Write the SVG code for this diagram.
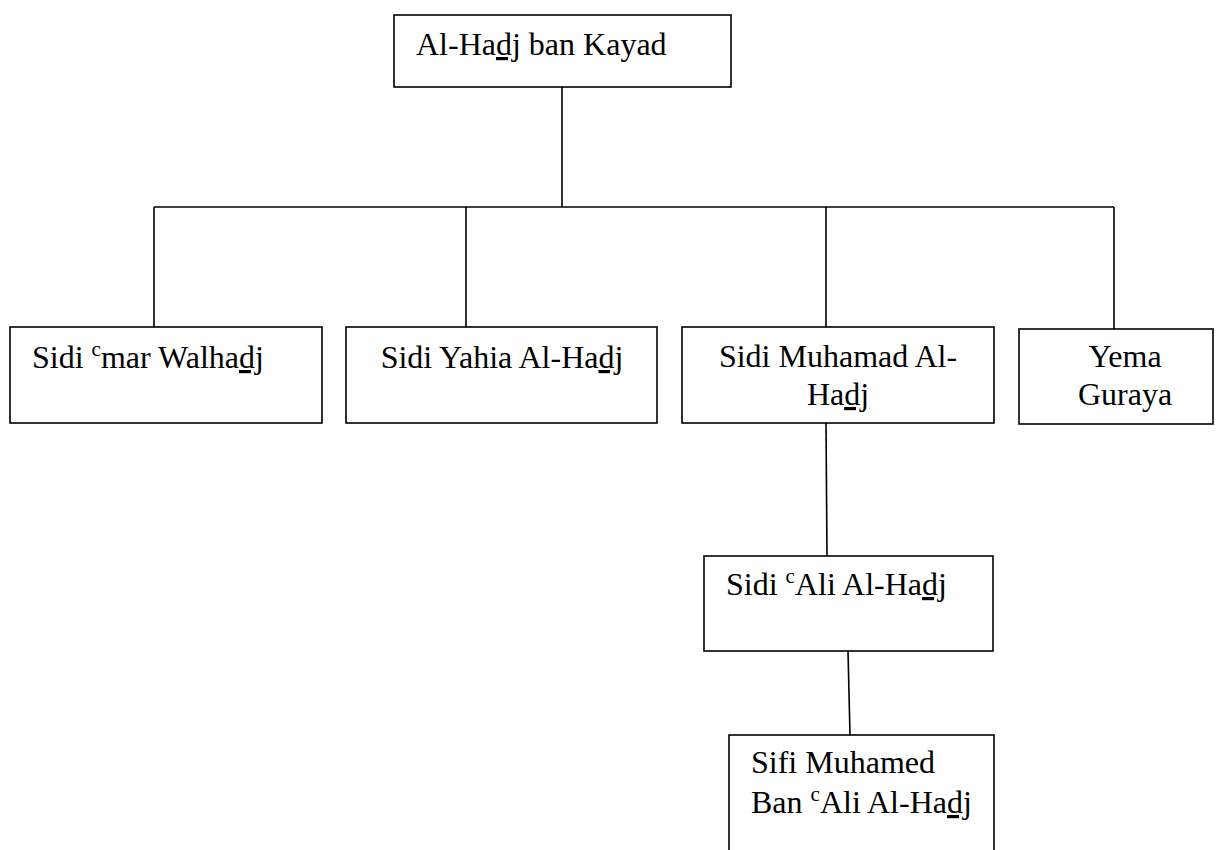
<svg xmlns="http://www.w3.org/2000/svg" width="1226" height="850" viewBox="0 0 1226 850">
<style>
.box{fill:#fff;stroke:#000;stroke-width:1.6}
.ln{stroke:#000;stroke-width:1.6;fill:none}
text{font-family:"Liberation Serif","Times New Roman",serif;font-size:32px;fill:#000}
.u{text-decoration:underline}
.sup{font-size:21px}
.c{text-anchor:middle}
</style>
<rect width="1226" height="850" fill="#fff"/>
<g id="connectors">
<line class="ln" x1="562" y1="87" x2="562" y2="207"/>
<line class="ln" x1="154" y1="207" x2="1114" y2="207"/>
<line class="ln" x1="154" y1="207" x2="154" y2="327"/>
<line class="ln" x1="466" y1="207" x2="466" y2="327"/>
<line class="ln" x1="826" y1="207" x2="826" y2="327"/>
<line class="ln" x1="1114" y1="207" x2="1114" y2="329"/>
<line class="ln" x1="826" y1="423" x2="827" y2="556"/>
<line class="ln" x1="848" y1="651" x2="850" y2="735"/>
</g>
<g id="n0">
<rect class="box" x="394" y="15" width="337" height="72"/>
<text x="416" y="55">Al-Ha<tspan class="u">dj</tspan> ban Kayad</text>
</g>
<g id="n1">
<rect class="box" x="10" y="327" width="312" height="96"/>
<text x="32" y="368">Sidi <tspan class="sup" dy="-12">c</tspan><tspan dy="12">mar Walha</tspan><tspan class="u">dj</tspan></text>
</g>
<g id="n2">
<rect class="box" x="346" y="327" width="311" height="96"/>
<text class="c" x="502" y="368">Sidi Yahia Al-Ha<tspan class="u">dj</tspan></text>
</g>
<g id="n3">
<rect class="box" x="682" y="327" width="312" height="96"/>
<text class="c" x="838" y="367">Sidi Muhamad Al-</text>
<text class="c" x="838" y="405">Ha<tspan class="u">dj</tspan></text>
</g>
<g id="n4">
<rect class="box" x="1019" y="329" width="194" height="95"/>
<text class="c" x="1125" y="367">Yema</text>
<text class="c" x="1125" y="405">Guraya</text>
</g>
<g id="n5">
<rect class="box" x="704" y="556" width="289" height="95"/>
<text x="726" y="595">Sidi <tspan class="sup" dy="-12">c</tspan><tspan dy="12">Ali Al-Ha</tspan><tspan class="u">dj</tspan></text>
</g>
<g id="n6">
<rect class="box" x="729" y="735" width="265" height="130"/>
<text x="751" y="773">Sifi Muhamed</text>
<text x="751" y="813">Ban <tspan class="sup" dy="-12">c</tspan><tspan dy="12">Ali Al-Ha</tspan><tspan class="u">dj</tspan></text>
</g>
</svg>
